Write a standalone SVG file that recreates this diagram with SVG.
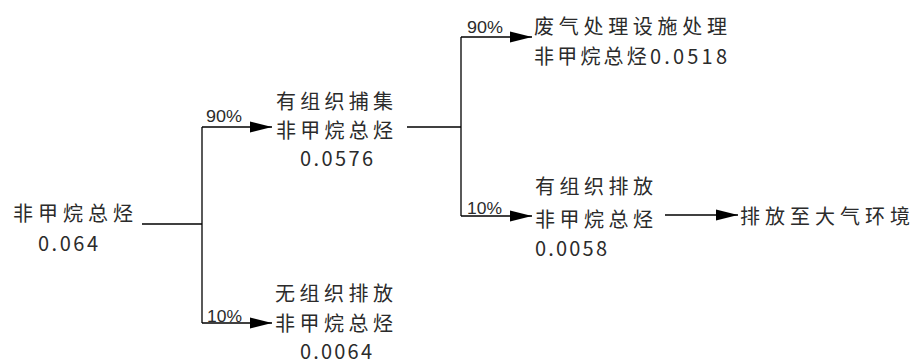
<svg xmlns="http://www.w3.org/2000/svg" width="914" height="363" viewBox="0 0 914 363">
<style>
.t{font-family:"Noto Sans CJK SC","Noto Sans",sans-serif;font-size:20px;fill:#2b2b2b;dominant-baseline:central}
.p{font-family:"Liberation Sans",sans-serif;font-size:16.5px;fill:#2b2b2b;dominant-baseline:central}
.c{stroke:#000;stroke-width:1.3;fill:none}
</style>
<defs>
<marker id="ah" markerUnits="userSpaceOnUse" markerWidth="24" markerHeight="12" refX="22" refY="6" orient="auto">
<path d="M0,0.5 L22,6 L0,11.5 Z" fill="#000"/>
</marker>
</defs>
<rect width="914" height="363" fill="#fff"/>
<g id="connectors">
<path class="c" d="M142,224 H202"/>
<path class="c" d="M202,127 V323"/>
<path class="c" d="M202,127 H272" marker-end="url(#ah)"/>
<path class="c" d="M202,323 H272" marker-end="url(#ah)"/>
<path class="c" d="M407,127 H461"/>
<path class="c" d="M461,37 V216"/>
<path class="c" d="M461,37 H532" marker-end="url(#ah)"/>
<path class="c" d="M461,216 H532" marker-end="url(#ah)"/>
<path class="c" d="M665,215 H738" marker-end="url(#ah)"/>
<text class="p" x="206" y="116" textLength="36" lengthAdjust="spacingAndGlyphs">90%</text>
<text class="p" x="207" y="316" textLength="35" lengthAdjust="spacingAndGlyphs">10%</text>
<text class="p" x="467" y="27" textLength="36" lengthAdjust="spacingAndGlyphs">90%</text>
<text class="p" x="467" y="208" textLength="35" lengthAdjust="spacingAndGlyphs">10%</text>
</g>
<g id="n-source">
<text class="t" x="13" y="212" textLength="120" lengthAdjust="spacing">非甲烷总烃</text>
<text class="t" x="38" y="242" textLength="60" lengthAdjust="spacing">0.064</text>
</g>
<g id="n-organized">
<text class="t" x="276" y="100" textLength="117" lengthAdjust="spacing">有组织捕集</text>
<text class="t" x="276" y="129" textLength="117" lengthAdjust="spacing">非甲烷总烃</text>
<text class="t" x="300" y="157" textLength="73" lengthAdjust="spacing">0.0576</text>
</g>
<g id="n-fugitive">
<text class="t" x="275" y="292" textLength="118" lengthAdjust="spacing">无组织排放</text>
<text class="t" x="275" y="322" textLength="118" lengthAdjust="spacing">非甲烷总烃</text>
<text class="t" x="300" y="350" textLength="72" lengthAdjust="spacing">0.0064</text>
</g>
<g id="n-treated">
<text class="t" x="534" y="25" textLength="193" lengthAdjust="spacing">废气处理设施处理</text>
<text class="t" x="534" y="55" textLength="193" lengthAdjust="spacing">非甲烷总烃0.0518</text>
</g>
<g id="n-emitted">
<text class="t" x="535" y="185" textLength="118" lengthAdjust="spacing">有组织排放</text>
<text class="t" x="535" y="218" textLength="118" lengthAdjust="spacing">非甲烷总烃</text>
<text class="t" x="535" y="247" textLength="72" lengthAdjust="spacing">0.0058</text>
</g>
<g id="n-atmosphere">
<text class="t" x="740" y="215" textLength="170" lengthAdjust="spacing">排放至大气环境</text>
</g>
</svg>
